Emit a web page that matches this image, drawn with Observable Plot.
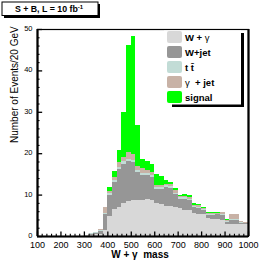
<!DOCTYPE html>
<html><head><meta charset="utf-8">
<script src="https://cdn.jsdelivr.net/npm/d3@7"></script>
<script src="https://cdn.jsdelivr.net/npm/@observablehq/plot@0.6"></script>
<style>
body{margin:0;background:#fff;}
svg{font-family:"Liberation Sans",Arial,sans-serif;}
</style></head>
<body><div id="chart"></div>
<script>
const binLow = [100,120,140,160,180,200,220,240,260,280,300,320,340,360,380,400,420,440,460,480,500,520,540,560,580,600,620,640,660,680,700,720,740,760,780,800,820,840,860,880,900,920,940,960,980];
const binWidth = 20;
const seriesNames = ["W + γ","W+jet","t t̄","γ + jet","signal"];
const seriesColors = ["#d8d8d8","#969696","#c2dcd6","#c8b2a6","#00ff00"];
const wGamma = [0,0,0,0,0,0,0,0,0,0,0.2,0.3,0.4,0.6,1.5,4.8,6.5,7.0,8.0,8.5,8.7,8.8,8.7,8.9,8.8,8.0,7.8,7.3,7.2,6.9,6.8,6.4,6.2,5.5,5.4,5.3,4.3,4.2,4.0,3.8,3.0,3.0,3.0,3.0,2.9];
const wJet = [0,0,0,0,0,0,0,0,0,0,0,0.2,0.3,0.7,3.8,5.1,6.6,9.2,9.5,9.6,9.1,6.7,6.1,5.8,5.4,3.4,3.6,4.6,4.5,3.3,2.2,2.6,2.5,1.5,1.3,1.0,0.8,0.9,1.2,1.3,0.4,0.8,0.9,0.2,0.2];
const ttbar = [0,0,0,0,0,0,0,0,0,0,0,0.2,0.3,0.2,0.3,0.4,0.5,0.5,0.5,0.6,0.6,0.5,0.5,0.5,0.5,0.4,0.4,0.4,0.3,0.3,0.3,0.3,0.3,0.3,0.2,0.2,0.2,0.2,0.2,0.2,0.2,0.2,0.2,0.2,0.1];
const gammaJet = [0,0,0,0,0,0,0,0,0,0,0,0,0,0.1,1.4,0.5,0.6,1.2,1.0,1.5,1.5,1.0,1.2,0.8,0.8,0.5,0.5,0.3,0.5,0.5,0.3,0.4,0.5,0.3,0.6,0.3,0.3,0.3,0.2,0.4,0.3,1.3,1.2,0.2,0.1];
const signal = [0,0,0,0,0,0,0,0,0,0,0,0,0,0,0,1.1,1.4,2.8,11.0,26.0,28.4,9.7,2.2,2.2,2.0,2.7,2.2,0.9,0.6,0.5,0.4,0.4,0.3,0.3,0.3,0.3,0.2,0.2,0.2,0.2,0.1,0.1,0.1,0.1,0.1];
const xTickLabels = [100,200,300,400,500,600,700,800,900,1000];
const xMinorTicks = [120,140,160,180,220,240,260,280,320,340,360,380,420,440,460,480,520,540,560,580,620,640,660,680,720,740,760,780,820,840,860,880,920,940,960,980];
const yTickLabels = [0,10,20,30,40,50];
const yMinorTicks = [2,4,6,8,12,14,16,18,22,24,26,28,32,34,36,38,42,44,46,48];

const seriesValues = [wGamma, wJet, ttbar, gammaJet, signal];
const table = [];
seriesNames.forEach((s, k) => binLow.forEach((lo, i) => table.push({series: s, x1: lo, x2: lo + binWidth, value: seriesValues[k][i]})));

const chart = Plot.plot({
  width: 263, height: 263,
  marginLeft: 37, marginRight: 15, marginTop: 29, marginBottom: 27,
  x: {domain: [100, 1000], label: null},
  y: {domain: [0, 50], label: null},
  color: {domain: seriesNames, range: seriesColors},
  style: {fontFamily: "Liberation Sans, Arial, sans-serif", background: "white"},
  marks: [
    Plot.rectY(table, {x1: "x1", x2: "x2", y: "value", fill: "series", shapeRendering: "crispEdges"}),
    Plot.frame({stroke: "black", strokeWidth: 1.2}),
    Plot.ruleX([100, 1000], {strokeWidth: 2.2}),
    Plot.ruleY([0], {strokeWidth: 2.2}),
    Plot.ruleX(xTickLabels, {x: d => d, y1: 0, y2: 1.1, strokeWidth: 1.3}),
    Plot.ruleX(xMinorTicks, {x: d => d, y1: 0, y2: 0.55, strokeWidth: 1.1}),
    Plot.ruleY(yTickLabels, {y: d => d, x1: 100, x2: 122, strokeWidth: 1.3}),
    Plot.ruleY(yMinorTicks, {y: d => d, x1: 100, x2: 111, strokeWidth: 1.1}),
    Plot.axisX({ticks: xTickLabels, tickSize: 0, tickPadding: 5, fontSize: 9, tickFormat: d => String(d), label: null}),
    Plot.axisY({ticks: yTickLabels, tickSize: 0, tickPadding: 5, fontSize: 7.5, dy: -1, tickFormat: d => String(d), label: null}),
    Plot.text(["W + γ  mass"], {frameAnchor: "bottom", dx: -3, dy: 21, fontSize: 10, fontWeight: "bold"}),
    Plot.text(["Number of Events/20 GeV"], {frameAnchor: "left", dx: -23, dy: 10, rotate: -90, fontSize: 10})
  ]
});
document.getElementById("chart").appendChild(chart);

// Title box and legend (decorations)
const svg = d3.select(chart);
const tb = svg.append("g");
tb.append("rect").attr("x", 4).attr("y", 4).attr("width", 96).attr("height", 14).attr("fill", "black");
tb.append("rect").attr("x", 2).attr("y", 2).attr("width", 96).attr("height", 13.5).attr("fill", "white").attr("stroke", "black").attr("stroke-width", 1);
const tt = tb.append("text").attr("x", 49).attr("y", 12).attr("text-anchor", "middle").attr("font-size", 8.8).attr("font-weight", "bold");
tt.append("tspan").text("S + B, L = 10 fb");
tt.append("tspan").attr("font-size", 6).attr("dy", -3).text("-1");

const lg = svg.append("g");
lg.append("rect").attr("x", 164).attr("y", 30.5).attr("width", 77).attr("height", 74).attr("fill", "white");
lg.append("rect").attr("x", 241).attr("y", 33).attr("width", 3).attr("height", 74).attr("fill", "black");
lg.append("rect").attr("x", 172).attr("y", 104.5).attr("width", 72).attr("height", 2.5).attr("fill", "black");
const labels = [["W + ", "γ", ""], ["W+jet", "", ""], ["t t̄", "", ""], ["", "γ", "  + jet"], ["signal", "", ""]];
seriesNames.forEach((s, k) => {
  const cy = 37 + k * 15;
  lg.append("rect").attr("x", 167).attr("y", cy - 6).attr("width", 15).attr("height", 12).attr("rx", 2).attr("fill", seriesColors[k]);
  const t = lg.append("text").attr("x", 185).attr("y", cy + 3.5).attr("text-anchor", "start").attr("font-size", 9.5).attr("font-weight", "bold").attr("xml:space", "preserve");
  const [a, g, b] = labels[k];
  if (a) t.append("tspan").text(a);
  if (g) t.append("tspan").attr("font-weight", "normal").text(g);
  if (b) t.append("tspan").text(b);
});
</script></body></html>
